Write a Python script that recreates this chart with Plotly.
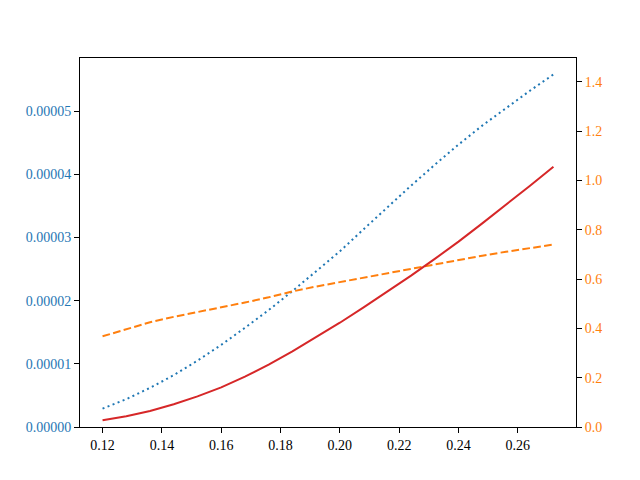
import plotly.graph_objs as go

# Data
x = [0.120, 0.128, 0.136, 0.144, 0.152, 0.160, 0.168, 0.176, 0.184, 0.192,
     0.200, 0.208, 0.216, 0.224, 0.232, 0.240, 0.248, 0.256, 0.264, 0.272]
blue_vals = [0.29e-5, 0.44e-5, 0.62e-5, 0.82e-5, 1.05e-5, 1.30e-5, 1.57e-5, 1.85e-5, 2.15e-5, 2.46e-5,
             2.78e-5, 3.13e-5, 3.48e-5, 3.82e-5, 4.15e-5, 4.47e-5, 4.77e-5, 5.05e-5, 5.32e-5, 5.58e-5]
orange_vals = [0.368, 0.398, 0.425, 0.447, 0.466, 0.483, 0.505, 0.526, 0.550, 0.570,
               0.588, 0.605, 0.622, 0.642, 0.660, 0.679, 0.695, 0.711, 0.726, 0.740]
red_vals = [0.027, 0.044, 0.065, 0.092, 0.124, 0.161, 0.204, 0.253, 0.307, 0.364,
            0.423, 0.485, 0.549, 0.614, 0.682, 0.752, 0.826, 0.901, 0.978, 1.056]

blue = '#1f77b4'
orange = '#ff7f0e'
red = '#d62728'
font = 'Liberation Serif'

data = []
data.append(go.Scatter(x=x, y=blue_vals, mode='lines', yaxis='y',
                       line=dict(color=blue, width=2, dash='2px,3.4px')))
data.append(go.Scatter(x=x, y=orange_vals, mode='lines', yaxis='y2',
                       line=dict(color=orange, width=2, dash='7.7px,3.3px')))
data.append(go.Scatter(x=x, y=red_vals, mode='lines', yaxis='y2',
                       line=dict(color=red, width=2)))

# Layout (page body adds an 8px offset, so margins are trimmed for it)
layout = {
    'width': 640, 'height': 480,
    'margin': dict(l=72, r=72, t=50, b=61),
    'showlegend': False,
    'plot_bgcolor': 'white', 'paper_bgcolor': 'white',
    'font': dict(family=font, size=14, color='black'),
    'xaxis': dict(range=[0.1124, 0.2796], tick0=0.12, dtick=0.02, tickformat='.2f',
                  showgrid=False, zeroline=False, showline=True, linecolor='black',
                  linewidth=1, mirror=True, ticks='outside', ticklen=5,
                  tickcolor='black'),
    'yaxis': dict(range=[0, 5.84e-5], dtick=1e-5, tickformat='.5f',
                  showgrid=False, zeroline=False, showline=True, linecolor='black',
                  linewidth=1, mirror=True, ticks='outside', ticklen=5,
                  tickcolor='black', tickfont=dict(color=blue)),
    'yaxis2': dict(range=[0, 1.497], dtick=0.2, tickformat='.1f', overlaying='y',
                   side='right', showgrid=False, zeroline=False, showline=True,
                   linecolor='black', linewidth=1, ticks='outside', ticklen=5,
                   tickcolor='black', tickfont=dict(color=orange)),
}

fig = go.Figure(data=data, layout=layout)
fig.write_html('out.html')
